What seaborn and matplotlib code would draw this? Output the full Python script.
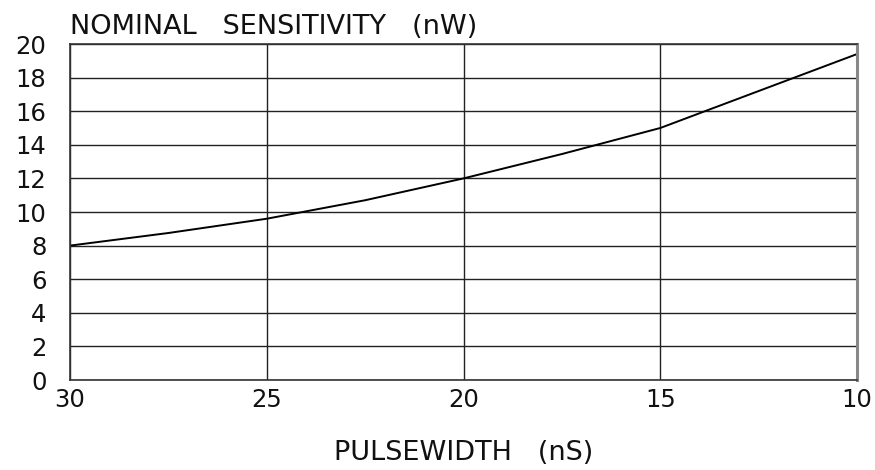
import numpy as np
import pandas as pd
import matplotlib
matplotlib.use("Agg")
import matplotlib.pyplot as plt
import seaborn as sns

# datos
pulsewidth = [30, 27.5, 25, 22.5, 20, 17.5, 15, 12.5, 10]
sensitivity = [8.0, 8.75, 9.6, 10.7, 12.0, 13.45, 15.0, 17.2, 19.4]
x_ticks = [30, 25, 20, 15, 10]
y_ticks = list(range(0, 21, 2))

df = pd.DataFrame({"pulsewidth": pulsewidth, "sensitivity": sensitivity})

sns.set_style("white")
plt.rcParams["font.family"] = ["DejaVu Sans"]

fig = plt.figure(figsize=(8.75, 4.7), dpi=100)
ax = fig.add_axes([70 / 875, 1 - 380 / 470, 787 / 875, 336 / 470])

sns.lineplot(data=df, x="pulsewidth", y="sensitivity", ax=ax, color="black", linewidth=1.4)

ax.set_xlim(30, 10)
ax.set_ylim(0, 20)
ax.set_xticks(x_ticks)
ax.set_yticks(y_ticks)
ax.grid(True, color="#222222", linewidth=1.0)
ax.tick_params(axis="both", length=0, labelsize=17.5, colors="#111111")
ax.tick_params(axis="x", pad=6)
ax.tick_params(axis="y", pad=17)
for s in ax.spines.values():
    s.set_color("#333333")
    s.set_linewidth(1.2)
ax.spines["right"].set_color("#888888")
ax.spines["right"].set_linewidth(2.2)

ax.set_xlabel("PULSEWIDTH   (nS)", fontsize=19.5, labelpad=20, color="#111111")
ax.set_ylabel("")
fig.text(70 / 875, 1 - 34 / 470, "NOMINAL   SENSITIVITY   (nW)", fontsize=19.5, color="#111111",
         ha="left", va="baseline")

plt.savefig("out.png", dpi=100)
